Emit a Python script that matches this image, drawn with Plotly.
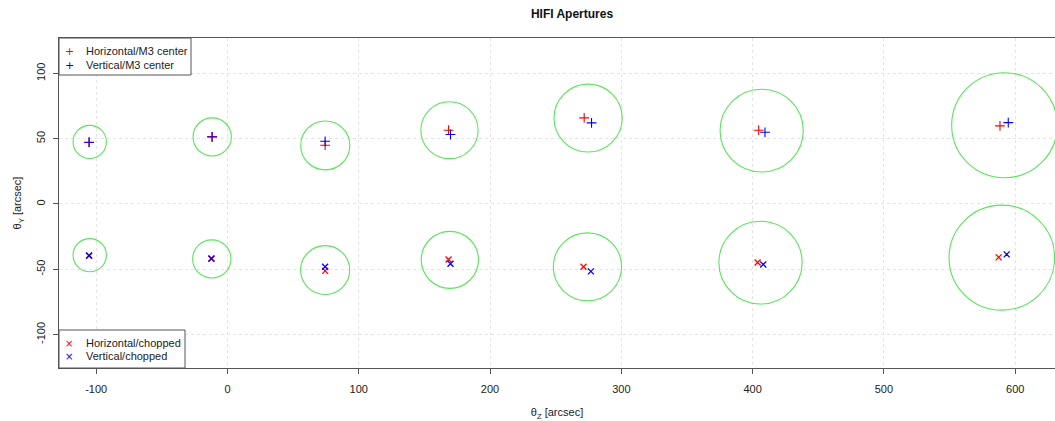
import plotly.graph_objects as go

# ---- data (arcsec) ----
circle_upper_z = [-104.9, -11.6, 74.5, 169.1, 274.7, 406.9, 591.8]
circle_upper_y = [47.5, 51.3, 44.8, 56.5, 65.8, 56.2, 60.3]
circle_lower_z = [-104.9, -11.9, 74.4, 169.4, 274.2, 406.0, 589.8]
circle_lower_y = [-39.2, -42.1, -50.6, -42.8, -48.1, -44.9, -41.1]
circle_radius = [12.7, 14.6, 18.7, 21.8, 26.0, 31.7, 40.2]

horiz_m3_z = [-105.4, -11.7, 74.4, 168.4, 271.7, 404.6, 588.4]
horiz_m3_y = [47.1, 51.6, 45.0, 56.5, 65.9, 56.5, 59.8]
vert_m3_z = [-105.4, -11.7, 74.4, 169.9, 277.3, 409.4, 594.7]
vert_m3_y = [47.3, 51.3, 48.0, 53.2, 62.1, 54.9, 62.3]
horiz_ch_z = [-105.4, -12.2, 74.4, 168.4, 271.2, 403.8, 587.4]
horiz_ch_y = [-39.7, -42.0, -51.2, -42.5, -48.1, -44.8, -40.9]
vert_ch_z = [-105.4, -12.2, 74.4, 169.9, 276.8, 408.1, 593.5]
vert_ch_y = [-39.5, -41.8, -48.1, -45.8, -51.6, -46.3, -38.6]

x_ticks = [-100, 0, 100, 200, 300, 400, 500, 600]
y_ticks = [-100, -50, 0, 50, 100]

series_names = ["Horizontal/M3 center", "Vertical/M3 center", "Horizontal/chopped", "Vertical/chopped"]
series_colors = ["red", "blue", "red", "blue"]
series_glyphs = ["+", "+", "×", "×"]

FONT = "Liberation Sans, Arial, sans-serif"
TXT = "#222"
EDGE = "#555"
fig = go.Figure()

# green aperture circles
shapes = []
for cz, cy, r in list(zip(circle_upper_z, circle_upper_y, circle_radius)) + list(zip(circle_lower_z, circle_lower_y, circle_radius)):
    shapes.append(dict(type="circle", xref="x", yref="y", x0=cz - r, x1=cz + r, y0=cy - r, y1=cy + r,
                       line=dict(color="rgb(90,228,90)", width=1.1), layer="above"))

data_sets = [(horiz_m3_z, horiz_m3_y, "cross-thin", 7, 1.1), (vert_m3_z, vert_m3_y, "cross-thin", 7, 1.1),
             (horiz_ch_z, horiz_ch_y, "x-thin", 6, 1.3), (vert_ch_z, vert_ch_y, "x-thin", 6, 1.3)]
for (zs, ys, sym, sz, lw), name, col in zip(data_sets, series_names, series_colors):
    fig.add_trace(go.Scatter(x=zs, y=ys, mode="markers", name=name, showlegend=False,
                             marker=dict(symbol=sym, color=col, size=sz, line=dict(width=lw, color=col))))

# R-style legends (boxes anchored to plot corners, sizes in pixels)
shapes.append(dict(type="rect", xref="paper", yref="paper", xsizemode="pixel", ysizemode="pixel",
                   xanchor=0, yanchor=1, x0=0, x1=132, y0=0, y1=-37,
                   fillcolor="white", line=dict(color=EDGE, width=1), layer="above"))
shapes.append(dict(type="rect", xref="paper", yref="paper", xsizemode="pixel", ysizemode="pixel",
                   xanchor=0, yanchor=0, x0=0, x1=126, y0=0, y1=38,
                   fillcolor="white", line=dict(color=EDGE, width=1), layer="above"))

annotations = []
legend_slots = [(1, -13), (1, -27), (0, 25), (0, 12)]
for (yp, ys), name, col, g in zip(legend_slots, series_names, series_colors, series_glyphs):
    annotations.append(dict(xref="paper", yref="paper", x=0, y=yp, xshift=10, yshift=ys, text=g,
                            showarrow=False, xanchor="center", yanchor="middle",
                            font=dict(family="DejaVu Sans, sans-serif", size=11 if g == "+" else 10, color=col)))
    annotations.append(dict(xref="paper", yref="paper", x=0, y=yp, xshift=25, yshift=ys, text=name,
                            showarrow=False, xanchor="left", yanchor="middle",
                            font=dict(family=FONT, size=11, color=TXT)))

axis_common = dict(showline=True, mirror=True, linecolor=EDGE, linewidth=1,
                   ticks="outside", ticklen=5, tickcolor=EDGE,
                   showgrid=True, gridcolor="#e4e4e4", griddash="dot", gridwidth=1,
                   zeroline=False, tickfont=dict(family=FONT, size=11, color=TXT))

fig.update_layout(
    width=1055, height=421,
    margin=dict(l=59, r=0, t=38, b=53),
    paper_bgcolor="white", plot_bgcolor="white",
    shapes=shapes, annotations=annotations,
    showlegend=False,
    title=dict(text="<b>HIFI Apertures</b>", x=572 / 1055, xanchor="center", y=1 - 14 / 421, yanchor="middle",
               font=dict(family=FONT, size=12, color="#111")),
    xaxis=dict(range=[-128.3, 630.3], tickvals=x_ticks, ticktext=[str(v) for v in x_ticks],
               title=dict(text="θ<sub>Z</sub> [arcsec]", font=dict(family=FONT, size=11, color=TXT), standoff=14),
               ticklabelstandoff=6, **axis_common),
    yaxis=dict(range=[-125.6, 127.1], tickvals=y_ticks, ticktext=[str(v) for v in y_ticks], tickangle=-90,
               title=dict(text="θ<sub>Y</sub> [arcsec]", font=dict(family=FONT, size=11, color=TXT), standoff=10),
               ticklabelstandoff=4, **axis_common),
)

fig.write_html("out.html")
